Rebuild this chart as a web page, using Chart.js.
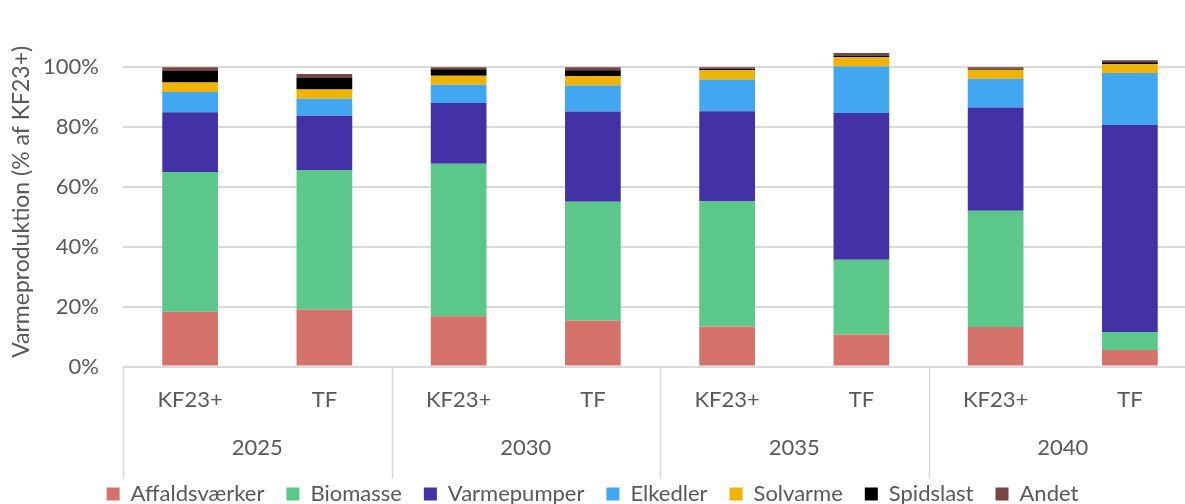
<!DOCTYPE html>
<html>
<head>
<meta charset="utf-8">
<script src="https://cdn.jsdelivr.net/npm/chart.js@4/dist/chart.umd.min.js"></script>
<style>
  html, body { margin: 0; padding: 0; background: #fff; overflow: hidden; }
  #wrap { width: 1197px; height: 504px; position: relative; }
</style>
</head>
<body>
<div id="wrap"><canvas id="c"></canvas></div>
<script>
const categories = ['KF23+', 'TF', 'KF23+', 'TF', 'KF23+', 'TF', 'KF23+', 'TF'];
const years = ['2025', '2030', '2035', '2040'];
const yTicks = [0, 20, 40, 60, 80, 100];

const affaldsvaerker = [18.3, 19.0, 16.8, 15.4, 13.4, 10.7, 13.2, 5.5];
const biomasse       = [46.7, 46.6, 50.9, 39.6, 41.7, 25.0, 38.8, 6.0];
const varmepumper    = [19.9, 18.2, 20.3, 30.2, 30.2, 49.0, 34.5, 69.2];
const elkedler       = [6.8, 5.6, 6.1, 8.7, 10.6, 15.5, 9.6, 17.3];
const solvarme       = [3.2, 3.1, 3.0, 3.1, 3.1, 3.1, 3.0, 3.0];
const spidslast      = [4.0, 4.0, 2.2, 2.0, 0.5, 0.6, 0.4, 0.6];
const andet          = [1.1, 1.2, 0.7, 1.0, 0.5, 0.8, 0.5, 0.7];

const FONT = 'Lato, "Open Sans", sans-serif';
const TXT = '#595959';
const GRID = '#d9d9d9';

function ds(label, data, color) {
  return { label, data, backgroundColor: color, borderWidth: 0,
           barPercentage: 0.415, categoryPercentage: 1.0 };
}

const separators = {
  id: 'separators',
  afterDraw(chart) {
    const x = chart.scales.x, x2 = chart.scales.x2;
    const ctx = chart.ctx;
    ctx.save();
    ctx.strokeStyle = GRID;
    ctx.lineWidth = 1.5;
    const n = years.length;
    for (let i = 0; i <= n; i++) {
      const px = Math.round(x.left + i * (x.right - x.left) / n) + 0.5;
      ctx.beginPath();
      ctx.moveTo(px, x.top);
      ctx.lineTo(px, x2.bottom);
      ctx.stroke();
    }
    ctx.restore();
  }
};

const legendShift = {
  id: 'legendShift',
  afterLayout(chart) {
    const lg = chart.legend;
    if (lg) {
      lg.right -= 12; lg.width -= 12;
      lg.top -= 17.5; lg.bottom -= 17.5;
    }
  }
};

new Chart(document.getElementById('c'), {
  type: 'bar',
  data: {
    labels: categories,
    datasets: [
      ds('Affaldsværker', affaldsvaerker, '#D5736B'),
      ds('Biomasse', biomasse, '#5BC88A'),
      ds('Varmepumper', varmepumper, '#4332A5'),
      ds('Elkedler', elkedler, '#41A7F0'),
      ds('Solvarme', solvarme, '#F0B400'),
      ds('Spidslast', spidslast, '#000000'),
      ds('Andet', andet, '#7A4644')
    ]
  },
  options: {
    responsive: true,
    maintainAspectRatio: false,
    animation: false,
    layout: { padding: { top: 10, left: 0, right: 0, bottom: -28.5 } },
    plugins: {
      tooltip: { enabled: false },
      legend: {
        position: 'bottom',
        labels: {
          color: TXT,
          font: { family: FONT, size: 22 },
          boxWidth: 13, boxHeight: 13,
          padding: 22
        }
      }
    },
    scales: {
      x: {
        stacked: true,
        offset: true,
        grid: { display: false, drawTicks: false },
        border: { display: false },
        ticks: { color: TXT, font: { family: FONT, size: 22 }, padding: 20, maxRotation: 0, autoSkip: false },
        afterFit(s) { s.height = 60; }
      },
      x2: {
        type: 'category',
        labels: years,
        position: 'bottom',
        offset: true,
        grid: { display: false, drawTicks: false },
        border: { display: false },
        ticks: { color: TXT, font: { family: FONT, size: 22 }, padding: 8, maxRotation: 0 },
        afterFit(s) { s.height = 52; }
      },
      y: {
        stacked: true,
        min: 0,
        max: 110,
        afterBuildTicks(s) { s.ticks = yTicks.map(v => ({ value: v })); },
        grid: { color: GRID, lineWidth: 2, drawTicks: false },
        border: { display: false },
        ticks: { color: TXT, font: { family: FONT, size: 22 }, padding: 24,
                 callback: v => v + '%' },
        title: { display: true, text: 'Varmeproduktion (% af KF23+)', color: TXT,
                 font: { family: FONT, size: 23 }, padding: { top: 8, bottom: 0 } },
        afterFit(s) { s.width = 123; }
      }
    }
  },
  plugins: [separators, legendShift]
});
</script>
</body>
</html>
